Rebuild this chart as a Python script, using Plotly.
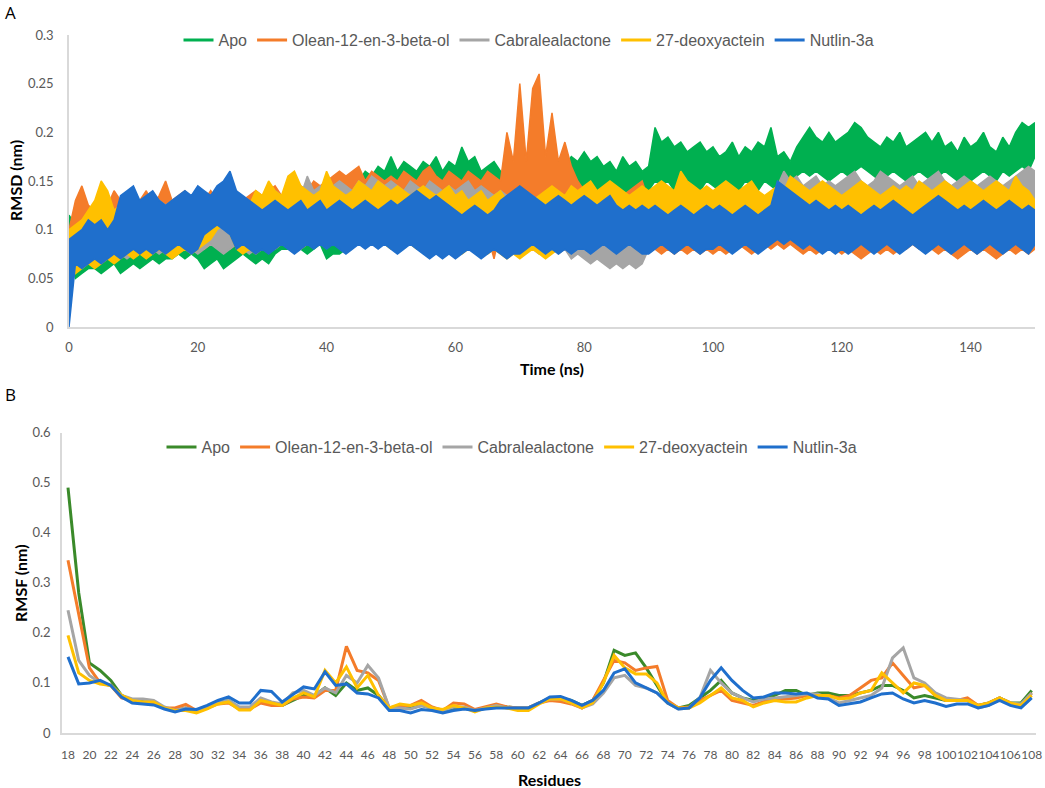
import plotly.graph_objects as go

# ---- Panel A: RMSD vs time (upper / lower swing read at each ns) ----
time_ns = list(range(151))

apo_hi = [0.115, 0.105, 0.10, 0.11, 0.105, 0.11, 0.10, 0.115, 0.11, 0.12,
          0.115, 0.12, 0.11, 0.125, 0.12, 0.115, 0.125, 0.12, 0.13, 0.12,
          0.125, 0.13, 0.12, 0.125, 0.13, 0.12, 0.13, 0.125, 0.12, 0.13,
          0.125, 0.13, 0.135, 0.13, 0.14, 0.135, 0.13, 0.14, 0.135, 0.145,
          0.14, 0.15, 0.145, 0.15, 0.155, 0.15, 0.16, 0.155, 0.165, 0.16,
          0.175, 0.16, 0.17, 0.165, 0.16, 0.17, 0.165, 0.175, 0.16, 0.17,
          0.165, 0.185, 0.17, 0.175, 0.16, 0.165, 0.17, 0.16, 0.15, 0.155,
          0.15, 0.16, 0.155, 0.16, 0.165, 0.16, 0.17, 0.165, 0.175, 0.17,
          0.18, 0.17, 0.175, 0.165, 0.17, 0.16, 0.175, 0.165, 0.17, 0.16,
          0.165, 0.205, 0.19, 0.195, 0.185, 0.19, 0.18, 0.185, 0.19, 0.18,
          0.185, 0.175, 0.18, 0.19, 0.175, 0.185, 0.18, 0.19, 0.185, 0.205,
          0.175, 0.18, 0.17, 0.185, 0.195, 0.205, 0.195, 0.19, 0.20, 0.19,
          0.195, 0.20, 0.21, 0.205, 0.195, 0.19, 0.185, 0.195, 0.19, 0.20,
          0.185, 0.19, 0.195, 0.20, 0.19, 0.20, 0.185, 0.19, 0.18, 0.195,
          0.185, 0.19, 0.20, 0.185, 0.18, 0.195, 0.185, 0.20, 0.21, 0.205,
          0.21]
apo_lo = [0.08, 0.05, 0.055, 0.06, 0.06, 0.055, 0.06, 0.065, 0.055, 0.06,
          0.065, 0.06, 0.065, 0.07, 0.065, 0.07, 0.07, 0.075, 0.07, 0.075,
          0.07, 0.06, 0.065, 0.07, 0.06, 0.065, 0.07, 0.075, 0.07, 0.065,
          0.07, 0.065, 0.075, 0.08, 0.08, 0.085, 0.08, 0.075, 0.08, 0.085,
          0.07, 0.075, 0.075, 0.08, 0.085, 0.09, 0.085, 0.09, 0.095, 0.10,
          0.10, 0.105, 0.10, 0.11, 0.105, 0.11, 0.115, 0.11, 0.12, 0.115,
          0.11, 0.115, 0.12, 0.12, 0.115, 0.125, 0.12, 0.13, 0.125, 0.12,
          0.125, 0.13, 0.125, 0.13, 0.135, 0.13, 0.135, 0.14, 0.135, 0.13,
          0.14, 0.135, 0.14, 0.13, 0.135, 0.14, 0.135, 0.13, 0.14, 0.135,
          0.14, 0.15, 0.145, 0.15, 0.14, 0.145, 0.15, 0.145, 0.14, 0.15,
          0.145, 0.14, 0.15, 0.145, 0.14, 0.15, 0.145, 0.14, 0.15, 0.145,
          0.14, 0.145, 0.15, 0.155, 0.16, 0.155, 0.16, 0.155, 0.15, 0.155,
          0.16, 0.155, 0.16, 0.165, 0.16, 0.155, 0.15, 0.155, 0.16, 0.155,
          0.15, 0.155, 0.16, 0.155, 0.15, 0.155, 0.16, 0.155, 0.15, 0.155,
          0.15, 0.155, 0.16, 0.155, 0.15, 0.16, 0.155, 0.16, 0.165, 0.16,
          0.175]

olean_hi = [0.10, 0.13, 0.145, 0.125, 0.12, 0.115, 0.125, 0.14, 0.13, 0.125,
            0.135, 0.13, 0.14, 0.125, 0.135, 0.15, 0.13, 0.135, 0.14, 0.13,
            0.135, 0.13, 0.14, 0.13, 0.125, 0.135, 0.14, 0.13, 0.135, 0.14,
            0.135, 0.14, 0.145, 0.135, 0.14, 0.15, 0.145, 0.14, 0.15, 0.145,
            0.15, 0.155, 0.16, 0.155, 0.16, 0.165, 0.15, 0.16, 0.155, 0.15,
            0.155, 0.15, 0.16, 0.155, 0.15, 0.16, 0.165, 0.155, 0.15, 0.16,
            0.155, 0.15, 0.16, 0.155, 0.15, 0.16, 0.155, 0.15, 0.20, 0.17,
            0.25, 0.17, 0.245, 0.26, 0.175, 0.22, 0.17, 0.19, 0.165, 0.15,
            0.14, 0.135, 0.13, 0.135, 0.14, 0.13, 0.135, 0.14, 0.145, 0.15,
            0.13, 0.115, 0.11, 0.115, 0.11, 0.12, 0.11, 0.115, 0.11, 0.105,
            0.11, 0.115, 0.11, 0.105, 0.11, 0.115, 0.11, 0.105, 0.11, 0.115,
            0.11, 0.105, 0.11, 0.115, 0.11, 0.105, 0.11, 0.115, 0.11, 0.105,
            0.11, 0.105, 0.115, 0.11, 0.105, 0.11, 0.115, 0.11, 0.105, 0.11,
            0.115, 0.11, 0.105, 0.11, 0.115, 0.12, 0.115, 0.11, 0.105, 0.11,
            0.115, 0.11, 0.105, 0.11, 0.115, 0.11, 0.105, 0.11, 0.115, 0.105,
            0.10]
olean_lo = [0.07, 0.075, 0.08, 0.08, 0.075, 0.08, 0.085, 0.08, 0.075, 0.08,
            0.08, 0.085, 0.08, 0.085, 0.08, 0.085, 0.09, 0.085, 0.08, 0.085,
            0.085, 0.08, 0.085, 0.09, 0.085, 0.08, 0.085, 0.09, 0.085, 0.09,
            0.09, 0.085, 0.09, 0.095, 0.09, 0.095, 0.09, 0.095, 0.10, 0.095,
            0.10, 0.095, 0.10, 0.105, 0.10, 0.105, 0.10, 0.105, 0.11, 0.105,
            0.11, 0.105, 0.11, 0.115, 0.11, 0.105, 0.11, 0.105, 0.10, 0.105,
            0.10, 0.095, 0.10, 0.105, 0.10, 0.095, 0.07, 0.10, 0.11, 0.115,
            0.12, 0.125, 0.12, 0.13, 0.125, 0.12, 0.125, 0.115, 0.11, 0.10,
            0.095, 0.09, 0.095, 0.09, 0.095, 0.10, 0.095, 0.09, 0.095, 0.10,
            0.085, 0.08, 0.075, 0.08, 0.075, 0.08, 0.075, 0.08, 0.075, 0.08,
            0.075, 0.08, 0.075, 0.08, 0.085, 0.08, 0.075, 0.08, 0.085, 0.08,
            0.085, 0.08, 0.085, 0.08, 0.075, 0.08, 0.075, 0.08, 0.085, 0.08,
            0.075, 0.08, 0.075, 0.07, 0.075, 0.08, 0.075, 0.08, 0.075, 0.08,
            0.08, 0.085, 0.08, 0.085, 0.08, 0.075, 0.08, 0.075, 0.07, 0.075,
            0.08, 0.075, 0.08, 0.075, 0.07, 0.075, 0.08, 0.075, 0.08, 0.075,
            0.08]

cabra_hi = [0.095, 0.10, 0.11, 0.115, 0.12, 0.11, 0.115, 0.12, 0.125, 0.12,
            0.125, 0.12, 0.13, 0.125, 0.13, 0.125, 0.13, 0.125, 0.12, 0.13,
            0.125, 0.13, 0.12, 0.125, 0.13, 0.125, 0.12, 0.13, 0.125, 0.13,
            0.135, 0.13, 0.14, 0.135, 0.13, 0.14, 0.135, 0.155, 0.14, 0.145,
            0.14, 0.145, 0.15, 0.145, 0.14, 0.15, 0.145, 0.155, 0.15, 0.145,
            0.15, 0.145, 0.14, 0.15, 0.145, 0.14, 0.15, 0.145, 0.14, 0.145,
            0.14, 0.145, 0.15, 0.14, 0.145, 0.14, 0.135, 0.14, 0.135, 0.13,
            0.135, 0.13, 0.135, 0.13, 0.125, 0.13, 0.125, 0.12, 0.115, 0.12,
            0.11, 0.105, 0.11, 0.10, 0.105, 0.10, 0.095, 0.10, 0.095, 0.10,
            0.115, 0.12, 0.125, 0.12, 0.115, 0.12, 0.125, 0.13, 0.12, 0.125,
            0.12, 0.125, 0.13, 0.125, 0.12, 0.125, 0.13, 0.125, 0.12, 0.13,
            0.145, 0.16, 0.15, 0.155, 0.145, 0.15, 0.155, 0.145, 0.15, 0.145,
            0.15, 0.155, 0.16, 0.15, 0.145, 0.15, 0.16, 0.155, 0.15, 0.145,
            0.15, 0.155, 0.145, 0.15, 0.155, 0.16, 0.15, 0.145, 0.15, 0.155,
            0.15, 0.145, 0.15, 0.155, 0.15, 0.145, 0.15, 0.155, 0.16, 0.165,
            0.16]
cabra_lo = [0.065, 0.06, 0.065, 0.07, 0.065, 0.07, 0.075, 0.07, 0.075, 0.07,
            0.075, 0.08, 0.075, 0.08, 0.075, 0.08, 0.075, 0.08, 0.085, 0.08,
            0.075, 0.08, 0.085, 0.08, 0.075, 0.08, 0.085, 0.08, 0.075, 0.08,
            0.08, 0.085, 0.08, 0.085, 0.09, 0.085, 0.08, 0.085, 0.09, 0.085,
            0.085, 0.09, 0.095, 0.09, 0.085, 0.09, 0.095, 0.09, 0.085, 0.09,
            0.085, 0.09, 0.085, 0.09, 0.095, 0.09, 0.085, 0.09, 0.095, 0.09,
            0.085, 0.09, 0.085, 0.08, 0.085, 0.09, 0.085, 0.08, 0.085, 0.08,
            0.08, 0.085, 0.08, 0.075, 0.08, 0.085, 0.075, 0.08, 0.07, 0.075,
            0.07, 0.065, 0.07, 0.065, 0.06, 0.065, 0.06, 0.065, 0.06, 0.065,
            0.08, 0.085, 0.09, 0.085, 0.09, 0.085, 0.09, 0.095, 0.09, 0.085,
            0.09, 0.095, 0.09, 0.085, 0.09, 0.095, 0.09, 0.085, 0.09, 0.095,
            0.10, 0.105, 0.11, 0.105, 0.11, 0.115, 0.11, 0.105, 0.11, 0.115,
            0.11, 0.115, 0.11, 0.105, 0.11, 0.115, 0.11, 0.115, 0.11, 0.105,
            0.11, 0.115, 0.11, 0.105, 0.11, 0.115, 0.11, 0.105, 0.11, 0.115,
            0.11, 0.105, 0.11, 0.115, 0.11, 0.105, 0.11, 0.115, 0.11, 0.115,
            0.12]

deoxy_hi = [0.10, 0.105, 0.11, 0.12, 0.13, 0.15, 0.14, 0.12, 0.125, 0.13,
            0.12, 0.125, 0.13, 0.12, 0.125, 0.12, 0.13, 0.125, 0.12, 0.125,
            0.13, 0.125, 0.12, 0.125, 0.13, 0.12, 0.125, 0.13, 0.125, 0.14,
            0.135, 0.15, 0.14, 0.135, 0.155, 0.16, 0.145, 0.14, 0.135, 0.14,
            0.16, 0.145, 0.14, 0.135, 0.14, 0.15, 0.145, 0.14, 0.15, 0.145,
            0.14, 0.145, 0.14, 0.135, 0.14, 0.145, 0.14, 0.135, 0.14, 0.145,
            0.135, 0.14, 0.13, 0.135, 0.14, 0.13, 0.135, 0.14, 0.13, 0.135,
            0.14, 0.135, 0.13, 0.135, 0.14, 0.145, 0.14, 0.135, 0.145, 0.14,
            0.145, 0.15, 0.14, 0.145, 0.15, 0.145, 0.14, 0.135, 0.14, 0.145,
            0.14, 0.145, 0.15, 0.145, 0.14, 0.16, 0.15, 0.145, 0.14, 0.145,
            0.14, 0.145, 0.15, 0.145, 0.14, 0.145, 0.15, 0.14, 0.135, 0.14,
            0.145, 0.14, 0.155, 0.15, 0.145, 0.14, 0.145, 0.15, 0.145, 0.14,
            0.135, 0.14, 0.145, 0.15, 0.145, 0.14, 0.135, 0.14, 0.145, 0.14,
            0.145, 0.14, 0.15, 0.145, 0.14, 0.145, 0.15, 0.145, 0.14, 0.145,
            0.15, 0.145, 0.14, 0.145, 0.15, 0.145, 0.14, 0.155, 0.145, 0.14,
            0.13]
deoxy_lo = [0.07, 0.055, 0.06, 0.065, 0.06, 0.065, 0.07, 0.065, 0.07, 0.075,
            0.07, 0.075, 0.07, 0.075, 0.08, 0.075, 0.07, 0.075, 0.08, 0.075,
            0.08, 0.085, 0.09, 0.10, 0.105, 0.095, 0.08, 0.075, 0.08, 0.075,
            0.08, 0.085, 0.08, 0.085, 0.09, 0.085, 0.08, 0.085, 0.09, 0.095,
            0.09, 0.095, 0.09, 0.085, 0.09, 0.095, 0.09, 0.085, 0.09, 0.085,
            0.08, 0.085, 0.09, 0.085, 0.08, 0.085, 0.09, 0.085, 0.08, 0.085,
            0.08, 0.075, 0.08, 0.085, 0.08, 0.075, 0.08, 0.075, 0.07, 0.075,
            0.07, 0.075, 0.08, 0.075, 0.07, 0.075, 0.08, 0.085, 0.08, 0.085,
            0.09, 0.095, 0.09, 0.095, 0.10, 0.095, 0.10, 0.095, 0.10, 0.105,
            0.10, 0.105, 0.10, 0.095, 0.10, 0.105, 0.10, 0.095, 0.09, 0.085,
            0.09, 0.085, 0.09, 0.085, 0.09, 0.095, 0.09, 0.085, 0.09, 0.095,
            0.10, 0.095, 0.09, 0.095, 0.10, 0.105, 0.10, 0.095, 0.10, 0.105,
            0.10, 0.105, 0.11, 0.105, 0.10, 0.095, 0.10, 0.105, 0.10, 0.105,
            0.10, 0.105, 0.11, 0.105, 0.10, 0.105, 0.11, 0.105, 0.10, 0.105,
            0.11, 0.105, 0.10, 0.105, 0.11, 0.105, 0.10, 0.105, 0.10, 0.095,
            0.10]

nutlin_hi = [0.09, 0.095, 0.10, 0.11, 0.105, 0.11, 0.10, 0.11, 0.135, 0.14,
             0.145, 0.13, 0.135, 0.14, 0.13, 0.125, 0.13, 0.135, 0.14, 0.135,
             0.145, 0.14, 0.135, 0.145, 0.15, 0.16, 0.14, 0.135, 0.13, 0.125,
             0.12, 0.125, 0.13, 0.125, 0.12, 0.125, 0.13, 0.12, 0.125, 0.13,
             0.12, 0.125, 0.13, 0.125, 0.12, 0.125, 0.13, 0.125, 0.12, 0.125,
             0.13, 0.125, 0.13, 0.135, 0.14, 0.135, 0.13, 0.135, 0.13, 0.125,
             0.12, 0.115, 0.12, 0.125, 0.12, 0.115, 0.12, 0.13, 0.135, 0.14,
             0.145, 0.14, 0.135, 0.13, 0.125, 0.13, 0.135, 0.13, 0.125, 0.13,
             0.135, 0.13, 0.125, 0.13, 0.135, 0.125, 0.12, 0.125, 0.12, 0.125,
             0.12, 0.125, 0.12, 0.115, 0.12, 0.125, 0.12, 0.115, 0.12, 0.125,
             0.12, 0.125, 0.12, 0.115, 0.12, 0.125, 0.12, 0.115, 0.12, 0.125,
             0.15, 0.145, 0.14, 0.135, 0.13, 0.125, 0.13, 0.125, 0.12, 0.125,
             0.12, 0.125, 0.12, 0.115, 0.12, 0.125, 0.12, 0.125, 0.13, 0.125,
             0.12, 0.115, 0.12, 0.125, 0.13, 0.135, 0.13, 0.125, 0.12, 0.125,
             0.12, 0.125, 0.13, 0.125, 0.12, 0.125, 0.13, 0.125, 0.12, 0.125,
             0.12]
nutlin_lo = [0.0, 0.065, 0.06, 0.065, 0.07, 0.065, 0.07, 0.075, 0.07, 0.075,
             0.08, 0.075, 0.08, 0.075, 0.08, 0.075, 0.08, 0.085, 0.08, 0.075,
             0.08, 0.095, 0.10, 0.105, 0.10, 0.095, 0.08, 0.085, 0.08, 0.075,
             0.08, 0.075, 0.08, 0.085, 0.08, 0.075, 0.08, 0.085, 0.08, 0.085,
             0.08, 0.085, 0.08, 0.075, 0.08, 0.085, 0.08, 0.085, 0.08, 0.085,
             0.08, 0.075, 0.08, 0.085, 0.08, 0.075, 0.07, 0.075, 0.07, 0.075,
             0.07, 0.075, 0.08, 0.075, 0.07, 0.075, 0.08, 0.075, 0.07, 0.075,
             0.075, 0.08, 0.085, 0.08, 0.075, 0.08, 0.075, 0.08, 0.075, 0.08,
             0.08, 0.075, 0.08, 0.085, 0.08, 0.075, 0.08, 0.085, 0.08, 0.075,
             0.075, 0.08, 0.085, 0.08, 0.075, 0.08, 0.085, 0.08, 0.075, 0.08,
             0.08, 0.085, 0.08, 0.075, 0.08, 0.085, 0.08, 0.075, 0.08, 0.085,
             0.09, 0.085, 0.09, 0.085, 0.08, 0.085, 0.08, 0.075, 0.08, 0.075,
             0.08, 0.075, 0.08, 0.085, 0.08, 0.075, 0.08, 0.085, 0.08, 0.075,
             0.08, 0.085, 0.08, 0.075, 0.08, 0.085, 0.08, 0.075, 0.08, 0.085,
             0.08, 0.075, 0.08, 0.085, 0.08, 0.075, 0.08, 0.085, 0.08, 0.075,
             0.085]

# ---- Panel B: RMSF per residue ----
residues = list(range(18, 109))

apo_rmsf = [0.49, 0.28, 0.14, 0.125, 0.105, 0.075, 0.065, 0.063, 0.06, 0.05,
            0.045, 0.05, 0.045, 0.05, 0.06, 0.065, 0.05, 0.05, 0.065, 0.06,
            0.055, 0.065, 0.075, 0.075, 0.09, 0.075, 0.10, 0.085, 0.09, 0.075,
            0.05, 0.05, 0.05, 0.055, 0.05, 0.045, 0.05, 0.05, 0.045, 0.05,
            0.055, 0.052, 0.05, 0.05, 0.06, 0.07, 0.07, 0.065, 0.055, 0.065,
            0.10, 0.165, 0.155, 0.16, 0.13, 0.095, 0.06, 0.05, 0.055, 0.07,
            0.085, 0.105, 0.08, 0.07, 0.065, 0.07, 0.075, 0.085, 0.085, 0.075,
            0.08, 0.08, 0.075, 0.075, 0.08, 0.085, 0.095, 0.095, 0.085, 0.07,
            0.075, 0.07, 0.065, 0.065, 0.065, 0.055, 0.06, 0.07, 0.06, 0.06,
            0.085]
olean_rmsf = [0.345, 0.24, 0.13, 0.10, 0.095, 0.07, 0.065, 0.06, 0.06, 0.05,
              0.05, 0.057, 0.045, 0.05, 0.058, 0.06, 0.048, 0.048, 0.06, 0.055,
              0.055, 0.068, 0.072, 0.07, 0.085, 0.085, 0.173, 0.125, 0.12, 0.105,
              0.05, 0.055, 0.055, 0.065, 0.052, 0.045, 0.06, 0.058, 0.047, 0.052,
              0.058, 0.052, 0.05, 0.05, 0.06, 0.065, 0.063, 0.058, 0.05, 0.065,
              0.105, 0.145, 0.14, 0.125, 0.13, 0.133, 0.065, 0.05, 0.052, 0.065,
              0.075, 0.085, 0.065, 0.06, 0.055, 0.063, 0.068, 0.068, 0.07, 0.075,
              0.075, 0.075, 0.07, 0.075, 0.09, 0.105, 0.11, 0.14, 0.115, 0.09,
              0.095, 0.075, 0.065, 0.065, 0.07, 0.055, 0.06, 0.07, 0.06, 0.055,
              0.08]
cabra_rmsf = [0.245, 0.145, 0.115, 0.10, 0.095, 0.075, 0.068, 0.068, 0.065, 0.052,
              0.045, 0.05, 0.045, 0.05, 0.06, 0.065, 0.052, 0.052, 0.07, 0.062,
              0.058, 0.08, 0.085, 0.075, 0.09, 0.08, 0.115, 0.10, 0.135, 0.11,
              0.05, 0.05, 0.048, 0.055, 0.05, 0.045, 0.052, 0.052, 0.045, 0.05,
              0.055, 0.05, 0.05, 0.05, 0.06, 0.068, 0.068, 0.06, 0.05, 0.058,
              0.08, 0.11, 0.115, 0.095, 0.09, 0.08, 0.06, 0.048, 0.05, 0.07,
              0.125, 0.10, 0.08, 0.07, 0.062, 0.068, 0.07, 0.072, 0.075, 0.078,
              0.078, 0.07, 0.06, 0.065, 0.07, 0.075, 0.09, 0.15, 0.17, 0.11,
              0.10, 0.08, 0.07, 0.068, 0.065, 0.05, 0.055, 0.07, 0.06, 0.058,
              0.08]
deoxy_rmsf = [0.195, 0.12, 0.105, 0.098, 0.095, 0.075, 0.065, 0.062, 0.062, 0.05,
              0.045, 0.045, 0.04, 0.048, 0.058, 0.062, 0.046, 0.046, 0.065, 0.06,
              0.055, 0.07, 0.08, 0.072, 0.125, 0.10, 0.132, 0.09, 0.115, 0.075,
              0.05, 0.058, 0.055, 0.06, 0.05, 0.047, 0.055, 0.05, 0.042, 0.05,
              0.052, 0.05, 0.045, 0.045, 0.058, 0.068, 0.068, 0.06, 0.05, 0.06,
              0.10, 0.155, 0.13, 0.118, 0.118, 0.10, 0.06, 0.05, 0.05, 0.06,
              0.075, 0.09, 0.07, 0.065, 0.052, 0.06, 0.065, 0.062, 0.062, 0.07,
              0.075, 0.075, 0.068, 0.07, 0.08, 0.085, 0.12, 0.10, 0.08, 0.10,
              0.095, 0.075, 0.065, 0.065, 0.065, 0.055, 0.06, 0.07, 0.06, 0.055,
              0.075]
nutlin_rmsf = [0.152, 0.098, 0.10, 0.105, 0.095, 0.072, 0.06, 0.058, 0.056, 0.048,
               0.042, 0.048, 0.047, 0.055, 0.065, 0.072, 0.06, 0.06, 0.085, 0.083,
               0.062, 0.077, 0.092, 0.088, 0.122, 0.095, 0.098, 0.08, 0.078, 0.07,
               0.045, 0.045, 0.04, 0.047, 0.045, 0.04, 0.045, 0.048, 0.045, 0.048,
               0.05, 0.05, 0.05, 0.05, 0.06, 0.072, 0.073, 0.065, 0.055, 0.065,
               0.085, 0.12, 0.128, 0.10, 0.09, 0.08, 0.06, 0.048, 0.05, 0.07,
               0.105, 0.13, 0.105, 0.085, 0.07, 0.072, 0.08, 0.08, 0.078, 0.08,
               0.07, 0.068, 0.055, 0.058, 0.062, 0.07, 0.078, 0.08, 0.068, 0.06,
               0.065, 0.06, 0.053, 0.058, 0.058, 0.05, 0.055, 0.065, 0.055, 0.05,
               0.07]

names = ["Apo", "Olean-12-en-3-beta-ol", "Cabralealactone", "27-deoxyactein", "Nutlin-3a"]
colors_a = ["#00b050", "#f47c2a", "#a5a5a5", "#ffc000", "#1f6fcc"]
colors_b = ["#3a8a2a", "#f47c2a", "#a5a5a5", "#ffc000", "#1f6fcc"]

rmsd = [(apo_lo, apo_hi), (olean_lo, olean_hi), (cabra_lo, cabra_hi),
        (deoxy_lo, deoxy_hi), (nutlin_lo, nutlin_hi)]
rmsf = [apo_rmsf, olean_rmsf, cabra_rmsf, deoxy_rmsf, nutlin_rmsf]

fig = go.Figure()

# RMSD: each trajectory drawn as its swing band (low edge, then high edge filled down to it)
for name, col, (lo, hi) in zip(names, colors_a, rmsd):
    fig.add_trace(go.Scatter(x=time_ns, y=lo, mode="lines", showlegend=False,
                             line=dict(color=col, width=1.5), hoverinfo="skip",
                             xaxis="x", yaxis="y"))
    fig.add_trace(go.Scatter(x=time_ns, y=hi, mode="lines", showlegend=False,
                             line=dict(color=col, width=1.5), fill="tonexty",
                             fillcolor=col, xaxis="x", yaxis="y"))
    # legend entry only
    fig.add_trace(go.Scatter(x=[None], y=[None], mode="lines", name=name,
                             line=dict(color=col, width=3),
                             xaxis="x", yaxis="y", legend="legend"))

for name, col, vals in zip(names, colors_b, rmsf):
    fig.add_trace(go.Scatter(x=residues, y=vals, mode="lines", name=name,
                             line=dict(color=col, width=3),
                             xaxis="x2", yaxis="y2", legend="legend2"))

tick_font = dict(family="Lato, Open Sans, sans-serif", size=13, color="#595959")
title_font = dict(family="Lato, sans-serif", size=16, color="black")
leg_font = dict(family="Liberation Sans, Arial, sans-serif", size=16, color="#595959")
axis_common = dict(showgrid=False, zeroline=False, showline=True, automargin=False,
                   linecolor="#d9d9d9", linewidth=1.5, ticks="", tickfont=tick_font)

W, H = 1045, 788


def px(x):
    return x / W


def py(y):
    return 1 - y / H


fig.update_layout(
    template="none",
    width=W, height=H,
    margin=dict(l=0, r=0, t=0, b=0, autoexpand=False),
    paper_bgcolor="white", plot_bgcolor="white",
    xaxis=dict(domain=[px(69), px(1035)], anchor="y", range=[0, 150],
               tickvals=list(range(0, 141, 20)), ticklabelstandoff=8, **axis_common),
    yaxis=dict(domain=[py(327), py(35)], anchor="x", range=[0, 0.3],
               tickvals=[0, 0.05, 0.1, 0.15, 0.2, 0.25, 0.3],
               ticktext=["0", "0.05", "0.1", "0.15", "0.2", "0.25", "0.3"],
               ticklabelstandoff=11, **axis_common),
    xaxis2=dict(domain=[px(62), px(1036)], anchor="y2", range=[17.44, 108.4],
                tickvals=list(range(18, 109, 2)), ticklabelstandoff=10, tickangle=0,
                **axis_common),
    yaxis2=dict(domain=[py(733), py(432.5)], anchor="x2", range=[0, 0.6],
                tickvals=[0, 0.1, 0.2, 0.3, 0.4, 0.5, 0.6],
                ticktext=["0", "0.1", "0.2", "0.3", "0.4", "0.5", "0.6"],
                ticklabelstandoff=7, **axis_common),
    legend=dict(orientation="h", x=px(529), xanchor="center", y=py(40),
                yanchor="middle", font=leg_font, bgcolor="rgba(0,0,0,0)",
                itemwidth=30, tracegroupgap=0, traceorder="normal"),
    legend2=dict(orientation="h", x=px(512), xanchor="center", y=py(447),
                 yanchor="middle", font=leg_font, bgcolor="rgba(0,0,0,0)",
                 itemwidth=30, tracegroupgap=0, traceorder="normal"),
    annotations=[
        dict(text="A", x=px(10), y=py(12)),
        dict(text="B", x=px(10), y=py(394)),
        dict(text="<b>RMSD (nm)</b>", x=px(16), y=py(181), textangle=-90),
        dict(text="<b>Time (ns)</b>", x=px(552), y=py(368)),
        dict(text="<b>RMSF (nm)</b>", x=px(20), y=py(583), textangle=-90),
        dict(text="<b>Residues</b>", x=px(549), y=py(779)),
    ],
)
fig.update_xaxes(selector=dict(anchor="y2"), tickfont=dict(size=12))
fig.update_annotations(xref="paper", yref="paper", showarrow=False,
                       xanchor="center", yanchor="middle", font=title_font)
for lab in ["A", "B"]:
    fig.update_annotations(selector=dict(text=lab),
                           font=dict(family="Open Sans, sans-serif", size=17, color="black"))

fig.write_html("out.html", config={"displayModeBar": False},
               post_script="document.body.style.margin='0';document.body.style.overflow='hidden';")
